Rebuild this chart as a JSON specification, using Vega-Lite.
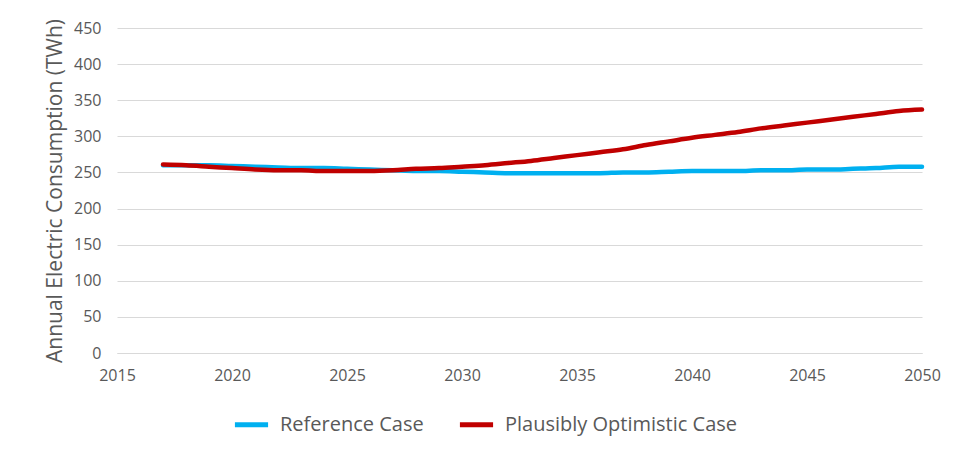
{
  "$schema": "https://vega.github.io/schema/vega-lite/v6.json",
  "width": 805,
  "height": 325,
  "autosize": {"type": "none"},
  "padding": {"left": 117, "top": 28, "right": 32, "bottom": 104},
  "background": "white",
  "config": {
    "view": {"stroke": null},
    "font": "Open Sans",
    "axis": {"labelColor": "#595959", "titleColor": "#595959", "labelFont": "Open Sans", "titleFont": "Open Sans", "gridColor": "#D9D9D9", "gridWidth": 1, "ticks": false, "domain": false}
  },
  "data": {
    "values": [
      {"year": 2017, "series": "Reference Case", "value": 260},
      {"year": 2018, "series": "Reference Case", "value": 260},
      {"year": 2019, "series": "Reference Case", "value": 260},
      {"year": 2020, "series": "Reference Case", "value": 259},
      {"year": 2021, "series": "Reference Case", "value": 258},
      {"year": 2022, "series": "Reference Case", "value": 257},
      {"year": 2023, "series": "Reference Case", "value": 256},
      {"year": 2024, "series": "Reference Case", "value": 256},
      {"year": 2025, "series": "Reference Case", "value": 255},
      {"year": 2026, "series": "Reference Case", "value": 254},
      {"year": 2027, "series": "Reference Case", "value": 253},
      {"year": 2028, "series": "Reference Case", "value": 252},
      {"year": 2029, "series": "Reference Case", "value": 252},
      {"year": 2030, "series": "Reference Case", "value": 251},
      {"year": 2031, "series": "Reference Case", "value": 250},
      {"year": 2032, "series": "Reference Case", "value": 249},
      {"year": 2033, "series": "Reference Case", "value": 249},
      {"year": 2034, "series": "Reference Case", "value": 249},
      {"year": 2035, "series": "Reference Case", "value": 249},
      {"year": 2036, "series": "Reference Case", "value": 249},
      {"year": 2037, "series": "Reference Case", "value": 250},
      {"year": 2038, "series": "Reference Case", "value": 250},
      {"year": 2039, "series": "Reference Case", "value": 251},
      {"year": 2040, "series": "Reference Case", "value": 252},
      {"year": 2041, "series": "Reference Case", "value": 252},
      {"year": 2042, "series": "Reference Case", "value": 252},
      {"year": 2043, "series": "Reference Case", "value": 253},
      {"year": 2044, "series": "Reference Case", "value": 253},
      {"year": 2045, "series": "Reference Case", "value": 254},
      {"year": 2046, "series": "Reference Case", "value": 254},
      {"year": 2047, "series": "Reference Case", "value": 255},
      {"year": 2048, "series": "Reference Case", "value": 256},
      {"year": 2049, "series": "Reference Case", "value": 258},
      {"year": 2050, "series": "Reference Case", "value": 258},
      {"year": 2017, "series": "Plausibly Optimistic Case", "value": 261},
      {"year": 2018, "series": "Plausibly Optimistic Case", "value": 260},
      {"year": 2019, "series": "Plausibly Optimistic Case", "value": 258},
      {"year": 2020, "series": "Plausibly Optimistic Case", "value": 256},
      {"year": 2021, "series": "Plausibly Optimistic Case", "value": 254},
      {"year": 2022, "series": "Plausibly Optimistic Case", "value": 253},
      {"year": 2023, "series": "Plausibly Optimistic Case", "value": 253},
      {"year": 2024, "series": "Plausibly Optimistic Case", "value": 252},
      {"year": 2025, "series": "Plausibly Optimistic Case", "value": 252},
      {"year": 2026, "series": "Plausibly Optimistic Case", "value": 252},
      {"year": 2027, "series": "Plausibly Optimistic Case", "value": 253},
      {"year": 2028, "series": "Plausibly Optimistic Case", "value": 255},
      {"year": 2029, "series": "Plausibly Optimistic Case", "value": 256},
      {"year": 2030, "series": "Plausibly Optimistic Case", "value": 258},
      {"year": 2031, "series": "Plausibly Optimistic Case", "value": 260},
      {"year": 2032, "series": "Plausibly Optimistic Case", "value": 263},
      {"year": 2033, "series": "Plausibly Optimistic Case", "value": 266},
      {"year": 2034, "series": "Plausibly Optimistic Case", "value": 270},
      {"year": 2035, "series": "Plausibly Optimistic Case", "value": 274},
      {"year": 2036, "series": "Plausibly Optimistic Case", "value": 278},
      {"year": 2037, "series": "Plausibly Optimistic Case", "value": 282},
      {"year": 2038, "series": "Plausibly Optimistic Case", "value": 288},
      {"year": 2039, "series": "Plausibly Optimistic Case", "value": 293},
      {"year": 2040, "series": "Plausibly Optimistic Case", "value": 298},
      {"year": 2041, "series": "Plausibly Optimistic Case", "value": 302},
      {"year": 2042, "series": "Plausibly Optimistic Case", "value": 306},
      {"year": 2043, "series": "Plausibly Optimistic Case", "value": 311},
      {"year": 2044, "series": "Plausibly Optimistic Case", "value": 315},
      {"year": 2045, "series": "Plausibly Optimistic Case", "value": 319},
      {"year": 2046, "series": "Plausibly Optimistic Case", "value": 323},
      {"year": 2047, "series": "Plausibly Optimistic Case", "value": 327},
      {"year": 2048, "series": "Plausibly Optimistic Case", "value": 331},
      {"year": 2049, "series": "Plausibly Optimistic Case", "value": 335},
      {"year": 2050, "series": "Plausibly Optimistic Case", "value": 337}
    ]
  },
  "mark": {"type": "line", "strokeWidth": 4.5, "strokeCap": "round", "interpolate": "monotone"},
  "encoding": {
    "x": {
      "field": "year", "type": "quantitative",
      "scale": {"domain": [2015, 2050], "nice": false, "zero": false},
      "axis": {"values": [2015, 2020, 2025, 2030, 2035, 2040, 2045, 2050], "format": "d", "title": null, "grid": false, "domain": true, "domainColor": "#D9D9D9", "labelFontSize": 16, "labelPadding": 14, "labelFlush": false}
    },
    "y": {
      "field": "value", "type": "quantitative",
      "scale": {"domain": [0, 450], "nice": false},
      "axis": {"values": [0, 50, 100, 150, 200, 250, 300, 350, 400, 450], "title": "Annual Electric Consumption (TWh)", "titleFontSize": 21, "titleFontWeight": "normal", "titlePadding": 8, "labelFontSize": 16, "labelPadding": 16}
    },
    "color": {
      "field": "series", "type": "nominal",
      "scale": {"domain": ["Reference Case", "Plausibly Optimistic Case"], "range": ["#00B0F0", "#C00000"]},
      "legend": {"title": null, "orient": "none", "direction": "horizontal", "legendX": 115, "legendY": 377, "symbolType": "stroke", "symbolSize": 1100, "symbolStrokeWidth": 5, "labelFontSize": 20, "labelColor": "#595959", "labelOffset": 9, "columnPadding": 25, "labelLimit": 400, "labelFont": "Open Sans"}
    }
  }
}
